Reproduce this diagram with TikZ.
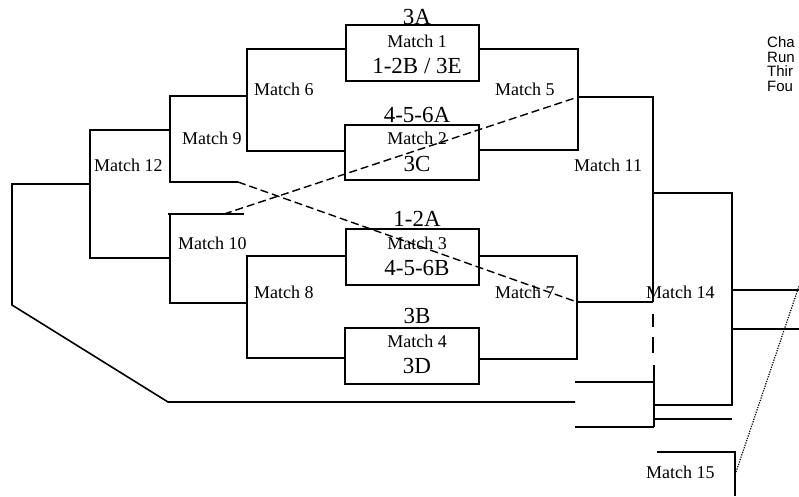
\documentclass[tikz,border=0pt]{standalone}
\usepackage{fontspec}
\setmainfont{Liberation Serif}
\newfontfamily\legendfont{Liberation Sans}
\begin{document}
\begin{tikzpicture}[x=1pt,y=-1pt,
  ln/.style={line width=1.6pt},
  dsh/.style={line width=1.4pt, dash pattern=on 8pt off 4pt},
  vdsh/.style={line width=1.6pt, dash pattern=on 0pt off 12pt on 13pt off 10pt on 16pt off 10pt},
  dotl/.style={line width=1.2pt, dash pattern=on 1.2pt off 1.3pt},
  box/.style={draw, line width=1.6pt, minimum width=133pt, minimum height=56pt, inner sep=0pt},
  lbl/.style={anchor=base west, inner sep=0pt, font=\fontsize{18}{18}\selectfont},
  small/.style={anchor=base, inner sep=0pt, font=\fontsize{18}{18}\selectfont},
  big/.style={anchor=base, inner sep=0pt, font=\fontsize{23}{23}\selectfont},
  leg/.style={anchor=base west, inner sep=0pt, font=\legendfont\fontsize{15}{15}\selectfont}]
\useasboundingbox (0,0) rectangle (799,496);

% boxes
\node[box] (b1) at (412.5,53) {};
\node[box, minimum width=134pt, minimum height=55pt] (b2) at (412,152.5) {};
\node[box] (b3) at (412.5,257) {};
\node[box, minimum width=134pt] (b4) at (412,356) {};

% box texts
\node[big] (t1a) at (417,24) {3A};
\node[small] (t1b) at (417,47) {Match 1};
\node[big] (t1c) at (417,73) {1-2B / 3E};
\node[big] (t2a) at (417,122) {4-5-6A};
\node[small] (t2b) at (417,144) {Match 2};
\node[big] (t2c) at (417,171) {3C};
\node[big] (t3a) at (417,226) {1-2A};
\node[small] (t3b) at (417,249) {Match 3};
\node[big] (t3c) at (417,275) {4-5-6B};
\node[big] (t4a) at (417,323) {3B};
\node[small] (t4b) at (417,347) {Match 4};
\node[big] (t4c) at (417,373) {3D};

% junction coordinates
\coordinate (m6t) at (247,49);
\coordinate (m6b) at (247,151);
\coordinate (m6o) at (247,96);
\coordinate (m9t) at (170,96);
\coordinate (m9b) at (170,182);
\coordinate (m9e) at (238,182);
\coordinate (m9o) at (170,130);
\coordinate (m10t) at (170,214);
\coordinate (m10l) at (168,214);
\coordinate (m10r) at (244,214);
\coordinate (m10d) at (224,214);
\coordinate (m10b) at (170,303);
\coordinate (m10o) at (170,258);
\coordinate (m8t) at (247,256);
\coordinate (m8b) at (247,358);
\coordinate (m8o) at (247,303);
\coordinate (m12t) at (90,130);
\coordinate (m12b) at (90,258);
\coordinate (m12o) at (90,184);
\coordinate (l1) at (12,184);
\coordinate (l2) at (12,305);
\coordinate (l3) at (168,402);
\coordinate (l4) at (575,402);
\coordinate (m5t) at (578,49);
\coordinate (m5b) at (578,150);
\coordinate (m5o) at (578,97);
\coordinate (m7t) at (577,256);
\coordinate (m7b) at (577,359);
\coordinate (m7o) at (577,302);
\coordinate (m11t) at (653,97);
\coordinate (m11m) at (653,302);
\coordinate (m11s) at (653,365);
\coordinate (m11e) at (654,365);
\coordinate (m11b) at (654,427);
\coordinate (m11r) at (653,193);
\coordinate (m14t) at (732,193);
\coordinate (m14b) at (732,405);
\coordinate (m14m) at (732,290);
\coordinate (m14n) at (732,329);
\coordinate (e1) at (799,290);
\coordinate (e2) at (799,329);
\coordinate (r1) at (654,405);
\coordinate (r2) at (654,419);
\coordinate (r2e) at (732,419);
\coordinate (s1a) at (575,382);
\coordinate (s1b) at (653,382);
\coordinate (s2a) at (575,427);
\coordinate (m15a) at (657,452);
\coordinate (m15b) at (735,452);
\coordinate (m15c) at (735,496);
\coordinate (d1) at (736,472);
\coordinate (d2) at (799,286);

% left half
\draw[ln] (b1.west |- m6t) -- (m6t) -- (m6b) -- (b2.west |- m6b);
\draw[ln] (m6o) -- (m9t) -- (m9b) -- (m9e);
\draw[ln] (m10l) -- (m10r);
\draw[ln] (m10t) -- (m10b) -- (m8o);
\draw[ln] (b3.west |- m8t) -- (m8t) -- (m8b) -- (b4.west |- m8b);
\draw[ln] (m9o) -- (m12t) -- (m12b) -- (m10o);
\draw[ln] (m12o) -- (l1) -- (l2) -- (l3) -- (l4);

% right half
\draw[ln] (b1.east |- m5t) -- (m5t) -- (m5b) -- (b2.east |- m5b);
\draw[ln] (m5o) -- (m11t) -- (m11m);
\draw[ln] (b3.east |- m7t) -- (m7t) -- (m7b) -- (b4.east |- m7b);
\draw[ln] (m7o) -- (m11m);
\draw[vdsh] (m11m) -- (m11s);
\draw[ln] (m11e) -- (m11b);
\draw[ln] (m11r) -- (m14t) -- (m14b) -- (r1);
\draw[ln] (r2) -- (r2e);
\draw[ln] (s1a) -- (s1b);
\draw[ln] (s2a) -- (m11b);
\draw[ln] (m14m) -- (e1);
\draw[ln] (m14n) -- (e2);
\draw[ln] (m15a) -- (m15b) -- (m15c);
\draw[dotl] (d1) -- (d2);

% dashed cross lines
\draw[dsh] (m9e) -- (m7o);
\draw[dsh] (m10d) -- (m5o);

% match labels
\node[lbl] (n6) at (254,95) {Match 6};
\node[lbl] (n9) at (182,144) {Match 9};
\node[lbl] (n12) at (94,171) {Match 12};
\node[lbl] (n10) at (178,249) {Match 10};
\node[lbl] (n8) at (254,298) {Match 8};
\node[lbl] (n5) at (495,95) {Match 5};
\node[lbl] (n11) at (574,171) {Match 11};
\node[lbl] (n7) at (495,298) {Match 7};
\node[lbl] (n14) at (646,298) {Match 14};
\node[lbl] (n15) at (646,478) {Match 15};

% legend
\node[leg] (g1) at (767,47.5) {Cha};
\node[leg] (g2) at (767,62) {Run};
\node[leg] (g3) at (767,76.5) {Thir};
\node[leg] (g4) at (767,91) {Fou};
\end{tikzpicture}
\end{document}
